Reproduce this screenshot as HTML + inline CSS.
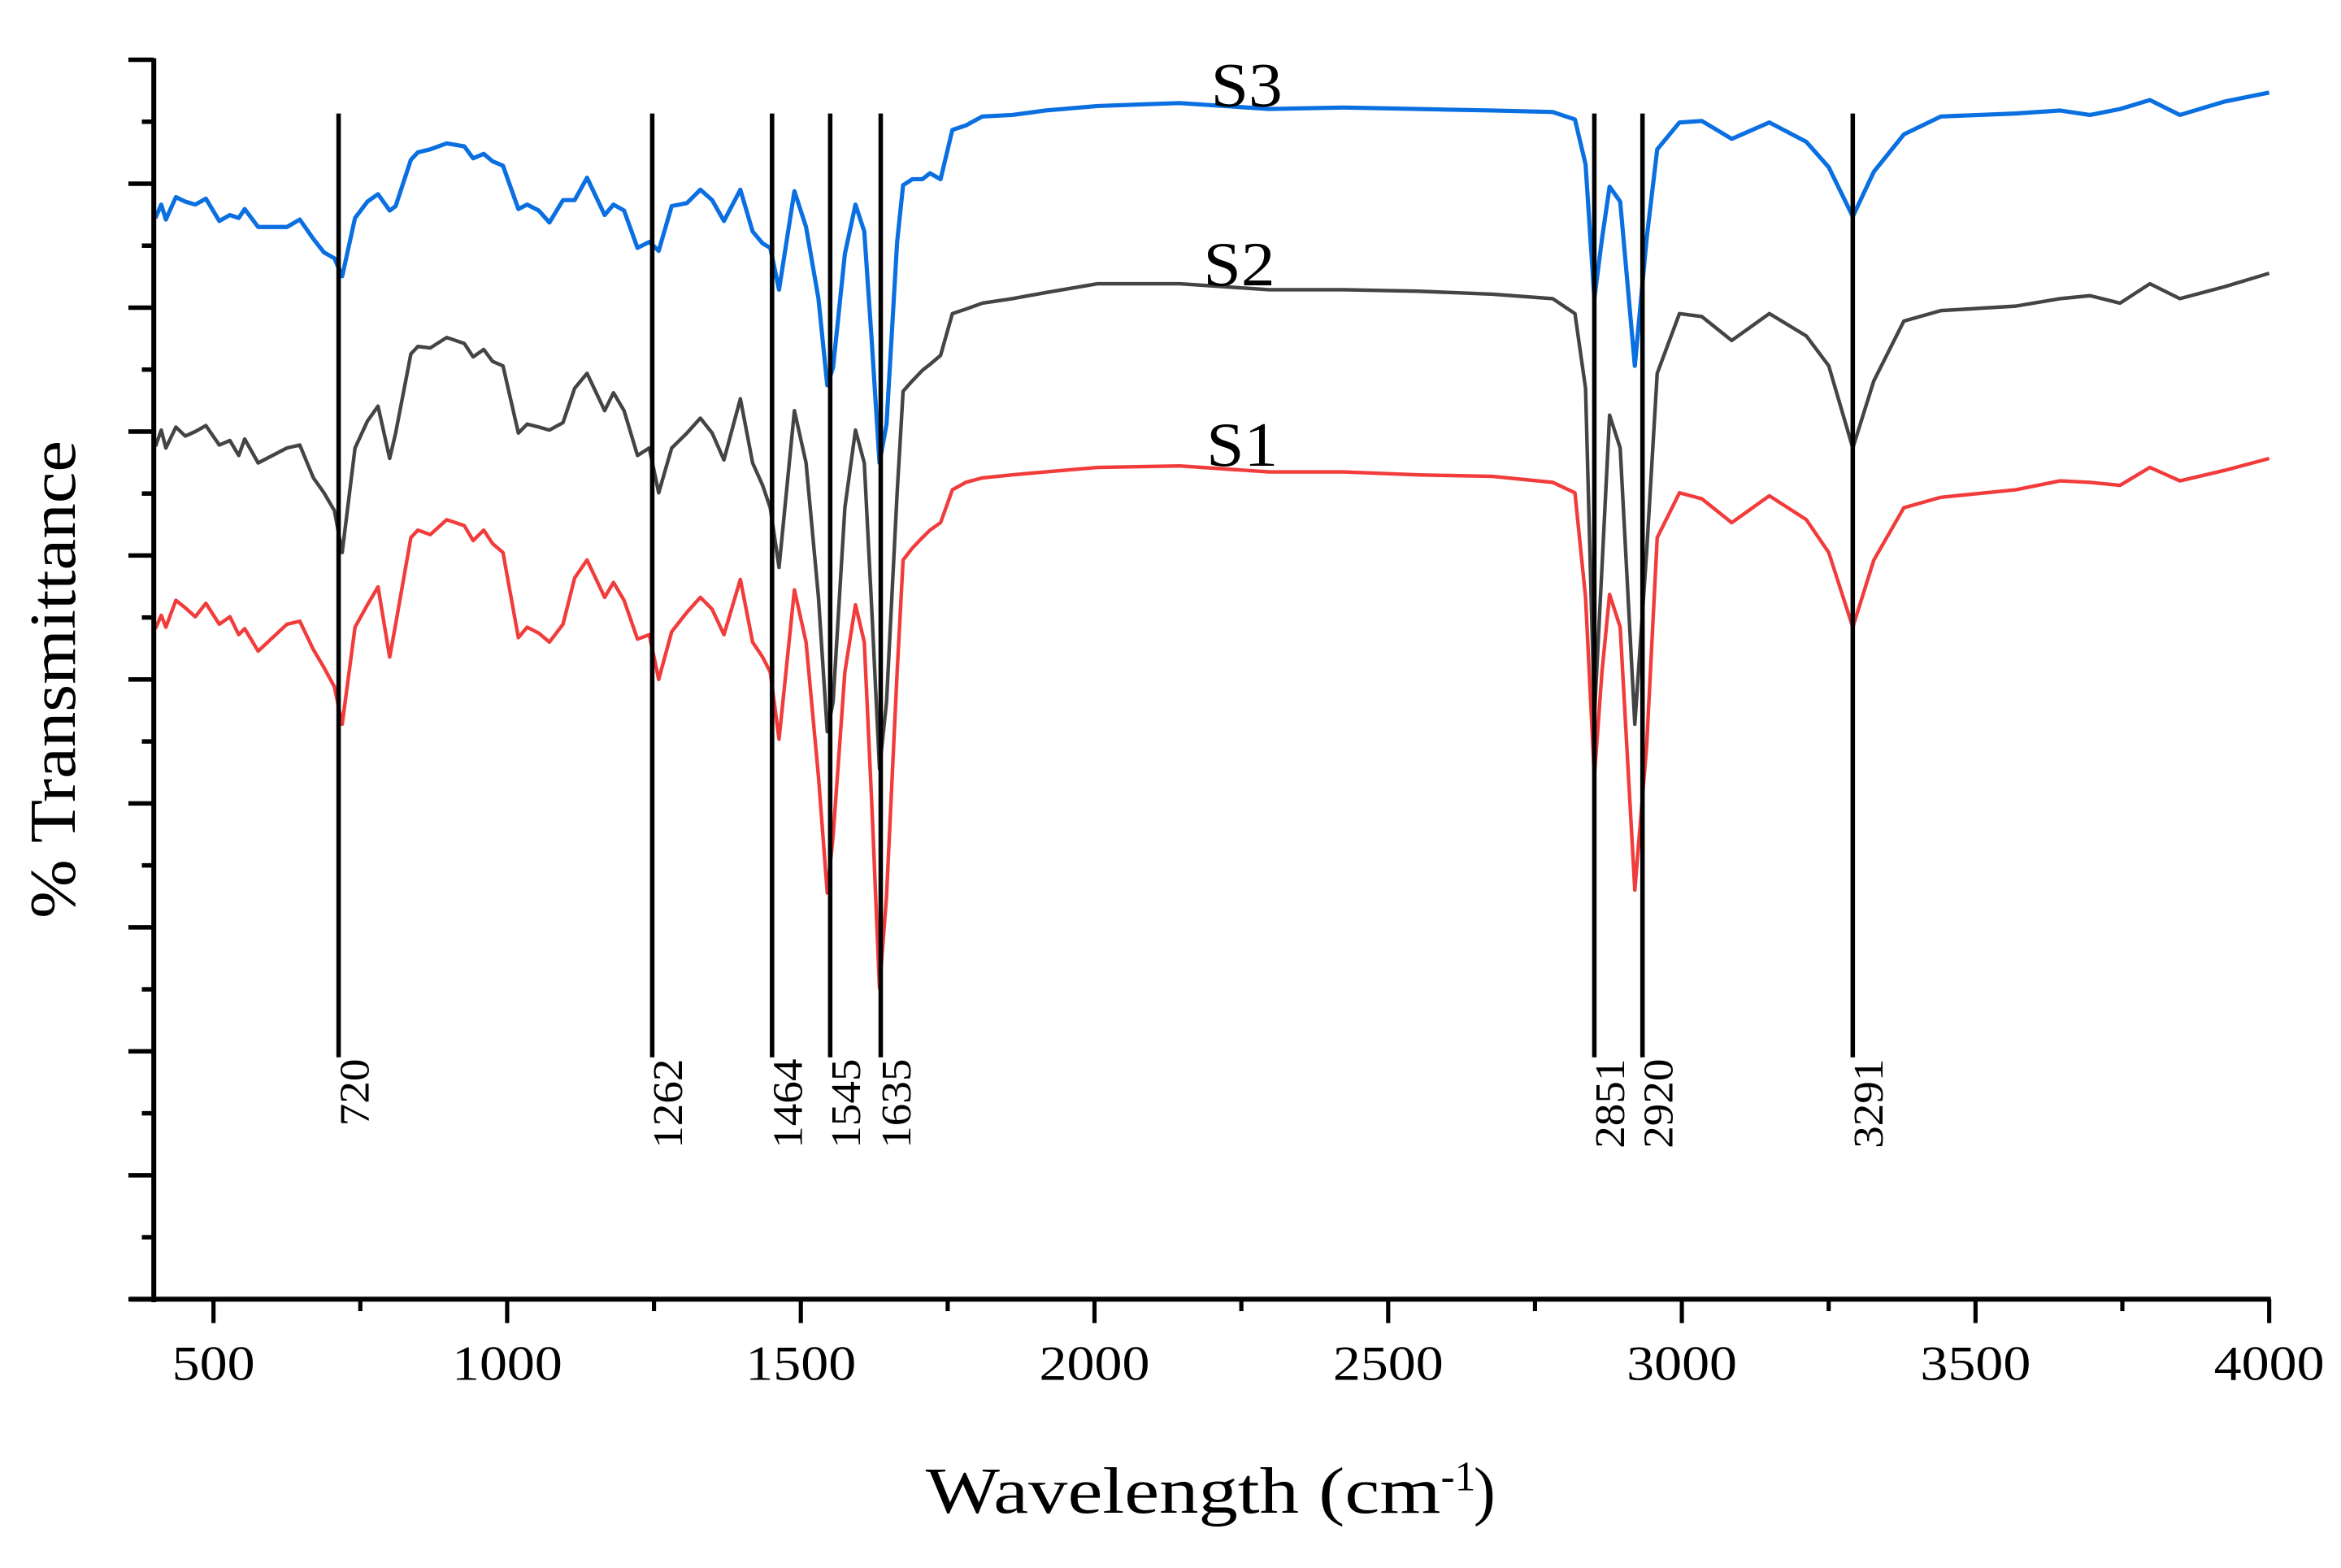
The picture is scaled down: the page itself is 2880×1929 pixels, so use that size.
<!DOCTYPE html>
<html><head><meta charset="utf-8"><style>
html,body{margin:0;padding:0;background:#fff;}
svg{display:block;}
text{font-family:"Liberation Serif",serif;fill:#000;}
</style></head><body>
<svg id="chart" width="2880" height="1929" viewBox="0 0 1568 1050" preserveAspectRatio="none" xmlns="http://www.w3.org/2000/svg">
<g id="series"></g>
<g id="lines"></g>
<g id="axes"></g>
<text x="835" y="71" font-size="42" text-anchor="middle" textLength="48" lengthAdjust="spacingAndGlyphs">S3</text>
<text x="830" y="191" font-size="42" text-anchor="middle" textLength="48" lengthAdjust="spacingAndGlyphs">S2</text>
<text x="832" y="312" font-size="42" text-anchor="middle" textLength="48" lengthAdjust="spacingAndGlyphs">S1</text>
<text transform="translate(50,455) rotate(-90)" font-size="44" text-anchor="middle" textLength="320" lengthAdjust="spacingAndGlyphs">% Transmittance</text>
<text x="620" y="1013" font-size="44" textLength="345" lengthAdjust="spacingAndGlyphs">Wavelength (cm</text>
<text x="965" y="998" font-size="28">-1</text>
<text x="987" y="1013" font-size="44">)</text>
<script>
const wavenumbers=[401,411,419,436,452,469,487,510,528,543,553,576,625,647,670,688,706,719,741,762,780,800,810,836,848,869,897,927,942,960,975,993,1019,1034,1054,1072,1095,1115,1136,1166,1181,1199,1222,1242,1258,1280,1306,1329,1349,1369,1397,1418,1435,1448,1463,1489,1509,1530,1545,1555,1575,1593,1608,1621,1634,1646,1664,1674,1690,1707,1720,1738,1758,1781,1809,1860,1916,2005,2145,2297,2424,2551,2678,2780,2818,2836,2851,2864,2877,2895,2920,2940,2958,2996,3034,3085,3149,3212,3250,3291,3327,3378,3441,3568,3644,3695,3746,3797,3848,3924,4000];
const s3Values=[724,733,723,738,735,733,737,722,726,724,730,718,718,723,710,701,697,685,724,735,740,729,732,763,768,770,774,772,764,767,762,759,730,733,729,721,736,736,751,726,733,729,704,708,702,732,734,743,736,722,743,715,707,704,676,742,718,670,612,624,700,733,715,640,560,586,708,746,750,750,754,750,783,786,792,793,796,799,801,797,798,797,796,795,790,760,670,710,745,735,625,710,770,788,789,777,788,775,758,725,755,780,792,794,796,793,797,803,793,802,808];
const s2Values=[571,582,570,584,578,581,585,572,575,565,576,560,570,572,550,540,528,500,570,588,598,563,580,633,638,637,644,640,631,636,628,625,580,586,584,582,587,610,620,595,607,595,565,570,540,570,580,590,580,562,603,560,545,530,490,595,560,470,380,400,530,582,560,460,355,400,540,608,615,622,626,632,660,663,667,670,674,680,680,676,676,675,673,670,660,610,390,490,592,570,385,500,620,660,658,642,660,645,625,570,615,655,662,665,670,672,667,680,670,678,687];
const s1Values=[449,458,450,468,463,457,466,452,457,445,449,434,452,454,435,423,410,385,450,465,477,430,452,510,515,512,522,518,508,515,506,500,443,450,446,440,452,483,495,470,480,468,442,445,415,447,460,470,462,445,482,440,430,420,375,475,440,350,272,310,420,465,440,330,208,270,420,495,503,510,515,520,542,547,550,552,554,557,558,554,554,552,551,547,540,470,350,420,472,450,274,370,510,540,536,520,538,522,500,450,495,530,537,542,548,547,545,557,548,555,563];
const seriesNames=["S1","S2","S3"];
const peakPositions=[713,1247,1451,1550,1636,2851,2933,3291];
const peakLabels=["720","1262","1464","1545","1635","2851","2920","3291"];
const xTicks=[500,1000,1500,2000,2500,3000,3500,4000];
const NS="http://www.w3.org/2000/svg";
function xs(v){return 143+(v-500)*0.3934;}
function ys(v){return 870-v;}
function mk(tag,attrs){const e=document.createElementNS(NS,tag);for(const k in attrs)e.setAttribute(k,attrs[k]);return e;}
const sg=document.getElementById('series');
const cols={S1:"#f23b3b",S2:"#444444",S3:"#0a6fe0"};
const vals={S1:s1Values,S2:s2Values,S3:s3Values};
seriesNames.forEach(n=>{
  const pts=wavenumbers.map((w,i)=>xs(w).toFixed(1)+","+ys(vals[n][i]).toFixed(1)).join(" ");
  const p=mk('polyline',{points:pts,fill:"none",stroke:cols[n],"stroke-width":n==="S3"?2.8:2.4,"stroke-linejoin":"round"});
  
  
  sg.appendChild(p);
});
const lg=document.getElementById('lines');
peakPositions.forEach((w,i)=>{
  const x=xs(w);
  const l=mk('line',{x1:x,x2:x,y1:76,y2:708,stroke:"#000","stroke-width":3});
  
  
  lg.appendChild(l);
  const t=mk('text',{transform:"translate("+(x+20)+",709) rotate(-90)","font-size":28,"text-anchor":"end",textLength:peakLabels[i].length*15,lengthAdjust:"spacingAndGlyphs"});
  t.textContent=peakLabels[i];
  
  
  lg.appendChild(t);
});
const ag=document.getElementById('axes');
const yAx=mk('line',{x1:103,x2:103,y1:39,y2:872,stroke:"#000","stroke-width":3.3});


ag.appendChild(yAx);
const xAx=mk('line',{x1:87,x2:1521,y1:870,y2:870,stroke:"#000","stroke-width":3.3});


ag.appendChild(xAx);
for(let k=0;k<=20;k++){
  const y=40+k*41.5;const major=k%2===0;
  const t=mk('line',{x1:major?86:95,x2:103,y1:y,y2:y,stroke:"#000","stroke-width":3});
  
  
  ag.appendChild(t);
}
for(let v=500;v<=4000;v+=250){
  const major=v%500===0;const x=xs(v);
  const t=mk('line',{x1:x,x2:x,y1:870,y2:major?886:878,stroke:"#000","stroke-width":2.8});
  
  
  ag.appendChild(t);
}
xTicks.forEach(v=>{
  const s=String(v);
  const t=mk('text',{x:xs(v),y:924,"font-size":33,"text-anchor":"middle",textLength:s.length*18.5,lengthAdjust:"spacingAndGlyphs"});
  t.textContent=s;
  
  
  ag.appendChild(t);
});
</script>
</svg>
</body></html>
